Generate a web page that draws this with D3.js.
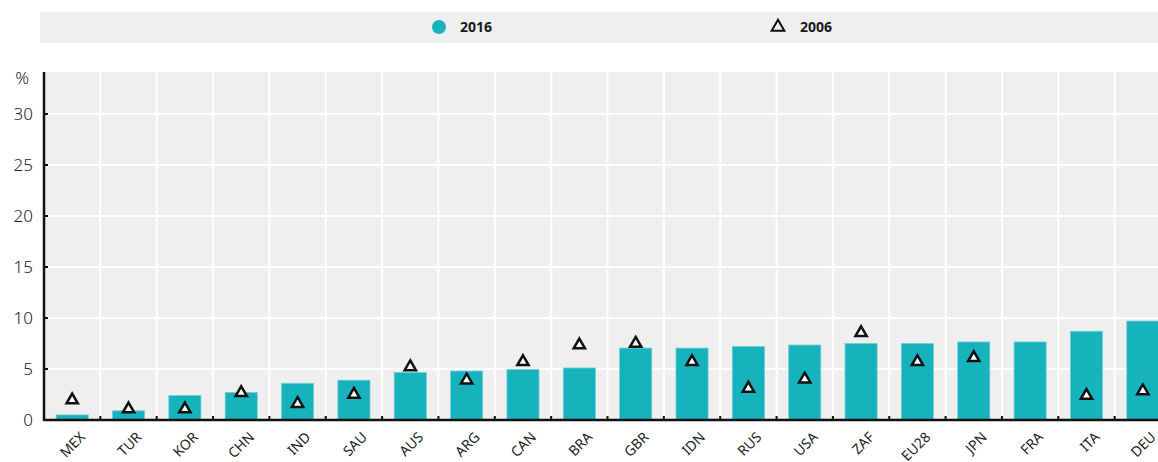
<!DOCTYPE html>
<html lang="en">
<head>
    <meta charset="UTF-8">
    <title>2016 vs 2006</title>
    <style>
        body { margin: 0; background: #fff; }
        svg { display: block; font-family: "Noto Sans", Lato, sans-serif; }
        .legend text { font-weight: 700; font-size: 14px; fill: #1a1a1a; }
        .ytick text { font-size: 17px; fill: #222; font-weight: 300; }
        .xtick text { font-size: 14px; fill: #222; }
    </style>
</head>
<body>
    <script src="https://cdn.jsdelivr.net/npm/d3@7"></script>
    <script>

        var countries = ["MEX", "TUR", "KOR", "CHN", "IND", "SAU", "AUS", "ARG", "CAN", "BRA",
                         "GBR", "IDN", "RUS", "USA", "ZAF", "EU28", "JPN", "FRA", "ITA", "DEU"];
        var values2016 = [0.5, 0.9, 2.4, 2.7, 3.6, 3.9, 4.65, 4.8, 4.95, 5.1,
                          7.05, 7.05, 7.2, 7.35, 7.5, 7.5, 7.65, 7.65, 8.7, 9.7];
        var values2006 = [1.95, 1.07, 1.07, 2.67, 1.6, 2.5, 5.2, 3.9, 5.7, 7.35,
                          7.5, 5.7, 3.1, 4.0, 8.55, 5.7, 6.1, null, 2.4, 2.85];
        var yTicks = [0, 5, 10, 15, 20, 25, 30];

        var width = 1158,
            height = 462;
        var plotLeft = 44, plotTop = 72, plotBottom = 420;
        var teal = "#17b3bc";

        var svg = d3.select("body").append("svg")
            .attr("width", width)
            .attr("height", height);

        // legend strip
        var legend = svg.append("g").attr("class", "legend");
        legend.append("rect")
            .attr("x", 40).attr("y", 12)
            .attr("width", width - 40).attr("height", 31)
            .attr("fill", "#efefef");
        legend.append("circle")
            .attr("cx", 439).attr("cy", 27).attr("r", 7)
            .attr("fill", teal);
        legend.append("text").attr("x", 460).attr("y", 32).text("2016");
        legend.append("path")
            .attr("d", d3.symbol(d3.symbolTriangle, 70)())
            .attr("transform", "translate(778,27)")
            .attr("fill", "none").attr("stroke", "#111").attr("stroke-width", 2);
        legend.append("text").attr("x", 800).attr("y", 32).text("2006");

        var x = d3.scaleBand()
            .domain(countries)
            .range([plotLeft, plotLeft + 56.35 * countries.length])
            .paddingInner(0.43)
            .paddingOuter(0.215);

        var y = d3.scaleLinear()
            .domain([0, 30])
            .range([plotBottom, 114]);

        // plot background
        svg.append("rect")
            .attr("x", plotLeft).attr("y", plotTop)
            .attr("width", width - plotLeft).attr("height", plotBottom - plotTop)
            .attr("fill", "#efefef");

        // gridlines
        svg.append("g").selectAll("line")
            .data(yTicks.slice(1))
            .enter().append("line")
            .attr("x1", plotLeft).attr("x2", width)
            .attr("y1", function(d) { return y(d); })
            .attr("y2", function(d) { return y(d); })
            .attr("stroke", "#fff").attr("stroke-width", 2);

        var gap = (x.step() - x.bandwidth()) / 2;
        var boundaries = countries.slice(1).map(function(c) { return x(c) - gap; });

        svg.append("g").selectAll("line")
            .data(boundaries)
            .enter().append("line")
            .attr("x1", function(d) { return d; })
            .attr("x2", function(d) { return d; })
            .attr("y1", plotTop).attr("y2", plotBottom)
            .attr("stroke", "#fff").attr("stroke-width", 2);

        // bars
        svg.append("g").selectAll("rect")
            .data(countries)
            .enter().append("rect")
            .attr("x", function(d) { return x(d); })
            .attr("y", function(d, i) { return y(values2016[i]); })
            .attr("width", x.bandwidth())
            .attr("height", function(d, i) { return y(0) - y(values2016[i]); })
            .attr("fill", teal)
            .attr("stroke", "#6fd0d5").attr("stroke-width", 0.8);

        // 2006 markers
        svg.append("g").selectAll("path")
            .data(countries.filter(function(d, i) { return values2006[i] != null; }))
            .enter().append("path")
            .attr("d", d3.symbol(d3.symbolTriangle, 55)())
            .attr("transform", function(d) {
                var i = countries.indexOf(d);
                return "translate(" + (x(d) + x.bandwidth() / 2) + "," + y(values2006[i]) + ")";
            })
            .attr("fill", "#fff").attr("stroke", "#111").attr("stroke-width", 2.5);

        // y axis
        var yAxis = svg.append("g").attr("class", "ytick");
        yAxis.selectAll("text")
            .data(yTicks)
            .enter().append("text")
            .attr("x", 33)
            .attr("y", function(d) { return y(d) + 6; })
            .attr("text-anchor", "end")
            .text(function(d) { return d; });
        yAxis.append("text")
            .attr("x", 29).attr("y", 84)
            .attr("text-anchor", "end")
            .text("%");
        yAxis.selectAll("line")
            .data(yTicks)
            .enter().append("line")
            .attr("x1", plotLeft).attr("x2", plotLeft + 4)
            .attr("y1", function(d) { return y(d); })
            .attr("y2", function(d) { return y(d); })
            .attr("stroke", "#111").attr("stroke-width", 2);
        svg.append("line")
            .attr("x1", plotLeft).attr("x2", plotLeft)
            .attr("y1", plotTop).attr("y2", plotBottom + 1)
            .attr("stroke", "#111").attr("stroke-width", 2.5);

        // x axis
        var xAxis = svg.append("g").attr("class", "xtick");
        xAxis.selectAll("line")
            .data(boundaries)
            .enter().append("line")
            .attr("x1", function(d) { return d; })
            .attr("x2", function(d) { return d; })
            .attr("y1", plotBottom - 4).attr("y2", plotBottom)
            .attr("stroke", "#111").attr("stroke-width", 2);
        svg.append("line")
            .attr("x1", plotLeft - 1).attr("x2", width)
            .attr("y1", plotBottom).attr("y2", plotBottom)
            .attr("stroke", "#111").attr("stroke-width", 2.5);
        xAxis.selectAll("text")
            .data(countries)
            .enter().append("text")
            .attr("text-anchor", "end")
            .attr("transform", function(d) {
                return "translate(" + (x(d) + x.bandwidth() / 2 + 14) + ",438) rotate(-45)";
            })
            .text(function(d) { return d; });

    </script>
</body>
</html>
